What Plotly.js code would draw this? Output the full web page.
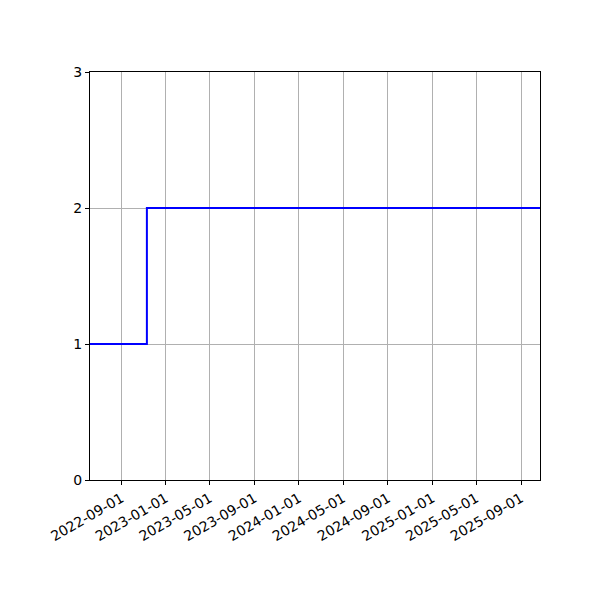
<!DOCTYPE html>
<html>
<head>
<meta charset="utf-8">
<script src="https://cdn.plot.ly/plotly-3.0.1.min.js"></script>
<style>
  html, body { margin: 0; padding: 0; background: #fff; }
  #chart { width: 600px; height: 600px; }
</style>
</head>
<body>
<div id="chart"></div>
<script>
// step series
var dates = ['2022-06-07', '2022-11-10', '2025-10-23'];
var counts = [1, 2, 2];

var xTicks = ['2022-09-01', '2023-01-01', '2023-05-01', '2023-09-01', '2024-01-01',
              '2024-05-01', '2024-09-01', '2025-01-01', '2025-05-01', '2025-09-01'];
var yTicks = [0, 1, 2, 3];

var trace = {
  x: dates,
  y: counts,
  type: 'scatter',
  mode: 'lines',
  line: { shape: 'hv', color: '#0000ff', width: 2 },
  hoverinfo: 'none'
};

var axisCommon = {
  showline: true,
  linecolor: '#000',
  linewidth: 1,
  mirror: true,
  ticks: 'outside',
  ticklen: 4,
  tickwidth: 1,
  tickcolor: '#000',
  showgrid: true,
  gridcolor: '#b0b0b0',
  gridwidth: 1,
  zeroline: false,
  tickfont: { family: 'DejaVu Sans', size: 14, color: '#000' }
};

var layout = {
  width: 600,
  height: 600,
  margin: { l: 90, r: 60, t: 72, b: 120 },
  paper_bgcolor: '#fff',
  plot_bgcolor: '#fff',
  showlegend: false,
  xaxis: Object.assign({}, axisCommon, {
    type: 'date',
    range: [dates[0], dates[dates.length - 1]],
    tickvals: xTicks,
    ticktext: xTicks,
    tickangle: -30
  }),
  yaxis: Object.assign({}, axisCommon, {
    range: [0, 3],
    tickvals: yTicks,
    ticktext: yTicks.map(String)
  })
};

Plotly.newPlot('chart', [trace], layout, { staticPlot: true });
</script>
</body>
</html>
